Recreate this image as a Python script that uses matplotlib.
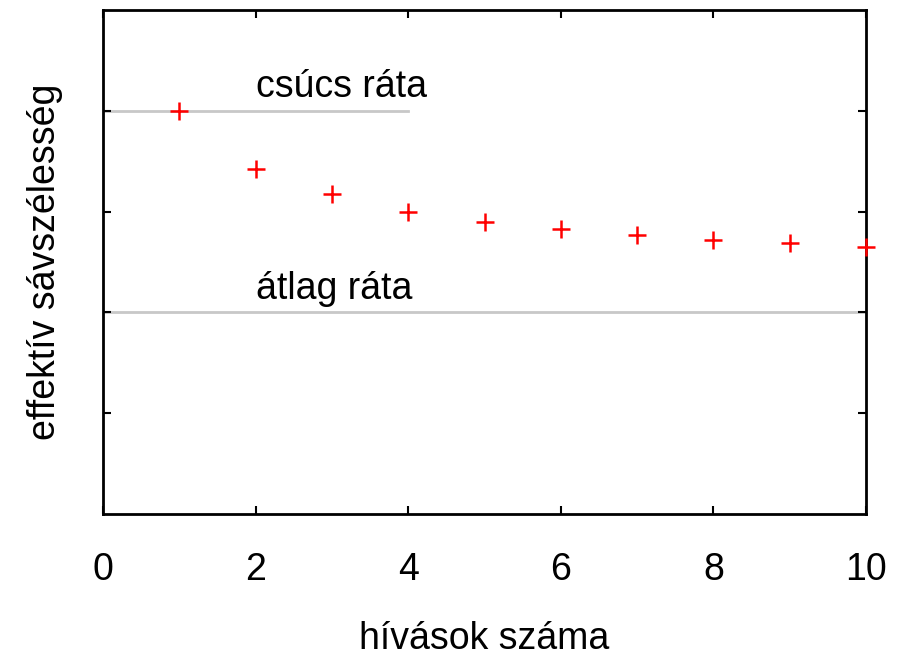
import matplotlib
matplotlib.use("Agg")
import matplotlib.pyplot as plt

calls = [1, 2, 3, 4, 5, 6, 7, 8, 9, 10]
bandwidth = [4.0, 3.42, 3.17, 3.0, 2.9, 2.83, 2.77, 2.72, 2.69, 2.65]
peak_rate = 4.0
peak_span = [0, 4]
avg_rate = 2.0
avg_span = [0, 10]
xticks = [0, 2, 4, 6, 8, 10]
yticks = [1, 2, 3, 4]

plt.rcParams['font.family'] = ['Liberation Sans', 'DejaVu Sans']
fs = 27

fig = plt.figure(figsize=(9.11, 6.57), dpi=100)
ax = fig.add_axes([103/911, 143/657, 763/911, 504/657])

ax.plot(peak_span, [peak_rate, peak_rate], color='#c8c8c8', lw=2, zorder=1)
ax.plot(avg_span, [avg_rate, avg_rate], color='#c8c8c8', lw=2, zorder=1)
ax.plot(calls, bandwidth, linestyle='none', marker='+', color='#ff0000',
        markersize=13, markeredgewidth=1.8, zorder=3, clip_on=False)

ax.text(2, peak_rate + 0.06, 'csúcs ráta', fontsize=fs, ha='left', va='bottom')
ax.text(2, avg_rate + 0.05, 'átlag ráta', fontsize=fs, ha='left', va='bottom')

ax.set_xlim(0, 10)
ax.set_ylim(0, 5)
ax.set_xticks(xticks)
ax.set_xticklabels([str(t) for t in xticks])
ax.set_yticks(yticks)
ax.set_yticklabels([])
ax.tick_params(axis='both', direction='in', length=6, width=1.5,
               top=True, right=True, labelsize=fs, pad=27)
for s in ax.spines.values():
    s.set_linewidth(2)

ax.set_xlabel('hívások száma', fontsize=fs, labelpad=24)
ax.set_ylabel('effektív sávszélesség', fontsize=fs, labelpad=2)

fig.savefig('out.png', dpi=100)
